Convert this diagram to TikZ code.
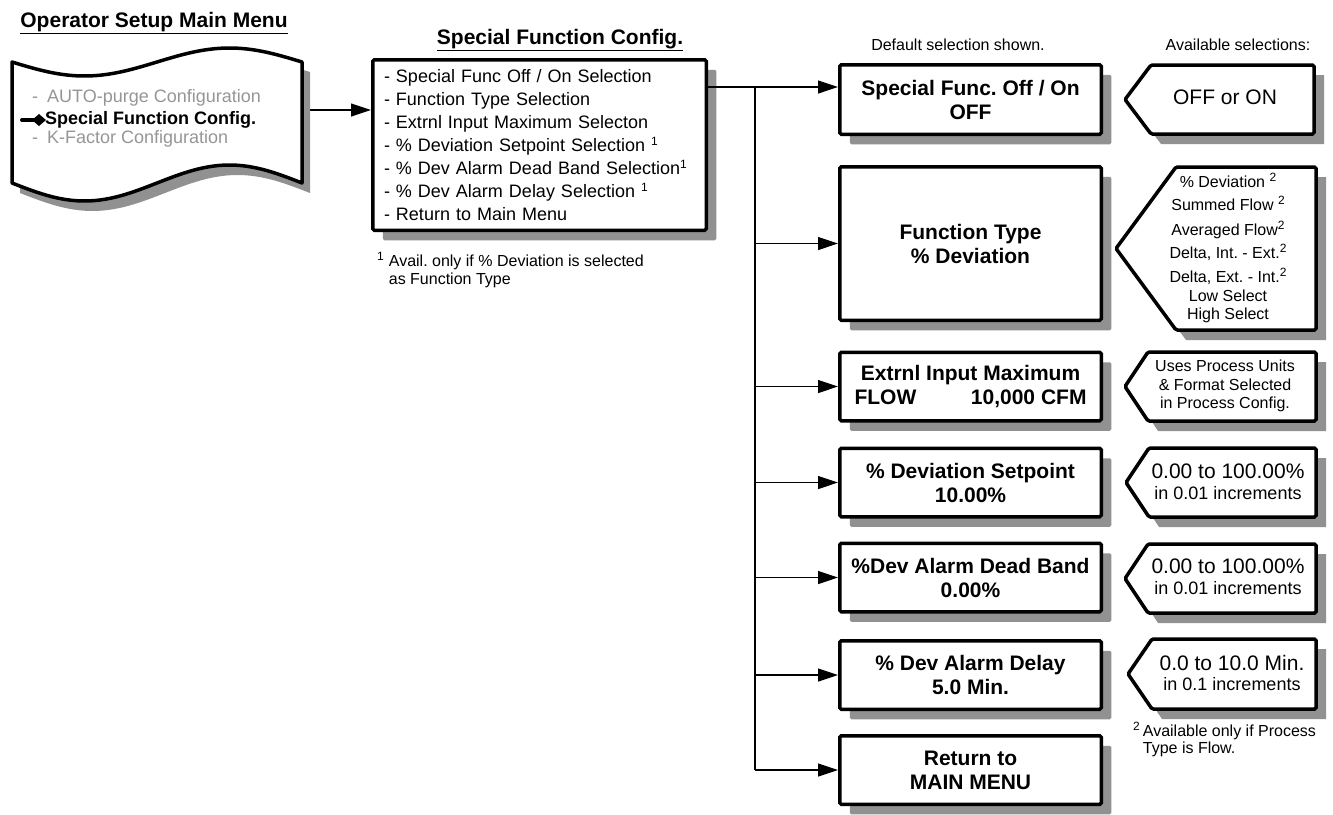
\documentclass[tikz,border=0pt]{standalone}
\usepackage{fontspec}
\setmainfont{Liberation Sans}
\usetikzlibrary{arrows.meta,shadows}
\definecolor{shgray}{RGB}{145,145,145}
\definecolor{menugray}{RGB}{150,150,150}
\frenchspacing
\newcommand\supr[1]{\raisebox{6pt}{\fontsize{12}{12}\selectfont #1}}
\newcommand\selshape[6]{%
  \begin{scope}[shift={(10,10)}]
    \fill[shgray] (#2,{(#5+#6)/2}) -- (#3,#5) -- (#4,#5) -- (#4,#6) -- (#3,#6) -- cycle;
  \end{scope}
  \draw[boxline] (#2,{(#5+#6)/2}) -- (#3,#5) -- (#4,#5) -- (#4,#6) -- (#3,#6) -- cycle;
  \coordinate (#1) at ({(#3+#4)/2},{(#5+#6)/2});
}
\begin{document}
\begin{tikzpicture}[x=1pt,y=-1pt,
  boxline/.style={draw=black, line width=3.5pt, fill=white, rounded corners=1.5pt},
  shad/.style={drop shadow={shadow xshift=10pt, shadow yshift=-10pt, fill=shgray, opacity=1}},
  valbox/.style={boxline, shad, minimum width=261.5pt, minimum height=68.5pt, inner sep=0pt, align=center, font=\fontsize{21}{24}\selectfont\bfseries},
  conn/.style={draw=black, line width=1.2pt},
  arr/.style={conn, -{Triangle[length=20pt,width=13pt]}},
  seltxt/.style={inner sep=0pt, align=center, font=\fontsize{16}{18}\selectfont},
  hdr/.style={inner sep=0pt, font=\fontsize{16}{18}\selectfont},
  ttl/.style={inner sep=0pt, font=\fontsize{21}{24}\selectfont\bfseries},
  menuitem/.style={inner sep=0pt, anchor=west, font=\fontsize{18}{22}\selectfont},
  foot/.style={inner sep=0pt, anchor=base west, font=\fontsize{16}{18}\selectfont}
]
\useasboundingbox (0,0) rectangle (1333,814);

% titles
\node[ttl, anchor=base] (t1) at (154,27) {\underline{Operator Setup Main Menu}};
\node[ttl, anchor=base] (t2) at (560,44) {\underline{Special Function Config.}};

% main list box
\node[boxline, shad, minimum width=333.5pt, minimum height=170.5pt, text width=311pt,
      inner sep=0pt, align=left, font=\fontsize{18}{23}\selectfont] (main) at (539.5,145)
 {- Special Func Off / On Selection\\
  - Function Type Selection\\
  - Extrnl Input Maximum Selecton\\
  - \% Deviation Setpoint Selection \supr{1}\\
  - \% Dev Alarm Dead Band Selection\supr{1}\\
  - \% Dev Alarm Delay Selection \supr{1}\\
  - Return to Main Menu};

\node[foot] (fn1) at (377,266) {\begin{tabular}[t]{@{}l@{\hspace{5pt}}l@{}}\supr{1} & Avail. only if \% Deviation is selected\\ & as Function Type\end{tabular}};

% arrow from menu to main box
\coordinate (docE) at (302,110);
\draw[arr] (docE) -- (docE -| main.west);

% operator setup menu (tape shape)
\fill[shgray, shift={(8,10)}] plot[domain=12:302,samples=60] (\x,{62+14*sin((\x-12)/290*360)})
   -- plot[domain=302:12,samples=60] (\x,{183+18*sin((\x-12)/290*360)}) -- cycle;
\draw[line width=3.5pt, fill=white, line join=round] plot[domain=12:302,samples=60] (\x,{62+14*sin((\x-12)/290*360)})
   -- plot[domain=302:12,samples=60] (\x,{183+18*sin((\x-12)/290*360)}) -- cycle;

\node[menuitem, text=menugray] (m1) at (32,98) {-\hspace*{9pt}AUTO-purge Configuration};
\node[menuitem, font=\fontsize{18}{22}\selectfont\bfseries] (m2) at (45,120) {Special Function Config.};
\node[menuitem, text=menugray] (m3) at (32,139) {-\hspace*{9pt}K-Factor Configuration};
\draw[line width=4pt, line cap=round] (22,120) -- (36,120);
\fill (32,120) -- (39,114) -- (46,120) -- (39,126) -- cycle;

% headers
\node[hdr] (h1) at (958,45) {Default selection shown.};
\node[hdr] (h2) at (1238,45) {Available selections:};

% right column boxes
\node[valbox, minimum height=69.5pt] (sfoo) at (970.5,99.5) {Special Func. Off / On\\OFF};
\node[valbox, minimum height=153.5pt] (ftype) at (970.5,243.5) {Function Type\\\% Deviation};
\node[valbox] (extr) at (970.5,386.5) {Extrnl Input Maximum\\\makebox[232pt]{FLOW\hfill 10,000 CFM}};
\node[valbox] (devsp) at (970.5,482.5) {\% Deviation Setpoint\\10.00\%};
\node[valbox] (deadb) at (970.5,577.5) {\%Dev Alarm Dead Band\\0.00\%};
\node[valbox] (delay) at (970.5,675) {\% Dev Alarm Delay\\5.0 Min.};
\node[valbox] (ret) at (970.5,770) {Return to\\MAIN MENU};

% connectors
\coordinate (t0) at (755,87);
\draw[arr] (main.east |- t0) -- (sfoo.west |- t0);
\draw[conn] (t0) -- (t0 |- ret.west);
\foreach \n in {ftype,extr,devsp,deadb,delay,ret} \draw[arr] (t0 |- \n.west) -- (\n.west);

% available selections
\selshape{p1}{1125}{1151}{1314}{65}{134}
\node[inner sep=0pt, font=\fontsize{21}{24}\selectfont] (p1t) at (1225,97) {OFF or ON};

\selshape{p2}{1116}{1176}{1316}{167}{330}
\node[seltxt] (p2t) at (1228,247.5) {\% Deviation \supr{2}\\[5pt]
  Summed Flow \supr{2}\\[7pt]
  Averaged Flow\supr{2}\\[5pt]
  Delta, Int. - Ext.\supr{2}\\[6pt]
  Delta, Ext. - Int.\supr{2}\\[1pt]
  Low Select\\
  High Select};

\selshape{p3}{1125}{1148}{1316}{352}{421}
\node[seltxt, font=\fontsize{16}{18.5}\selectfont] (p3t) at (1225,386) {Uses Process Units\\ \& Format Selected\\ in Process Config.};

\selshape{p4}{1126}{1149}{1316}{448}{517}
\node[seltxt, font=\fontsize{18}{21}\selectfont] (p4t) at (1228,482) {{\fontsize{21}{21}\selectfont 0.00 to 100.00\%}\\ in 0.01 increments};

\selshape{p5}{1125}{1148}{1316}{544}{613}
\node[seltxt, font=\fontsize{18}{21}\selectfont] (p5t) at (1228,577) {{\fontsize{21}{21}\selectfont 0.00 to 100.00\%}\\ in 0.01 increments};

\selshape{p6}{1128}{1152}{1316}{639}{709}
\node[seltxt, font=\fontsize{18}{20}\selectfont] (p6t) at (1232,673) {{\fontsize{21}{21}\selectfont 0.0 to 10.0 Min.}\\ in 0.1 increments};

\node[foot, font=\fontsize{16}{17}\selectfont] (fn2) at (1133,736) {\begin{tabular}[t]{@{}l@{\hspace{3pt}}l@{}}\supr{2} & Available only if Process\\ & Type is Flow.\end{tabular}};
\end{tikzpicture}
\end{document}
